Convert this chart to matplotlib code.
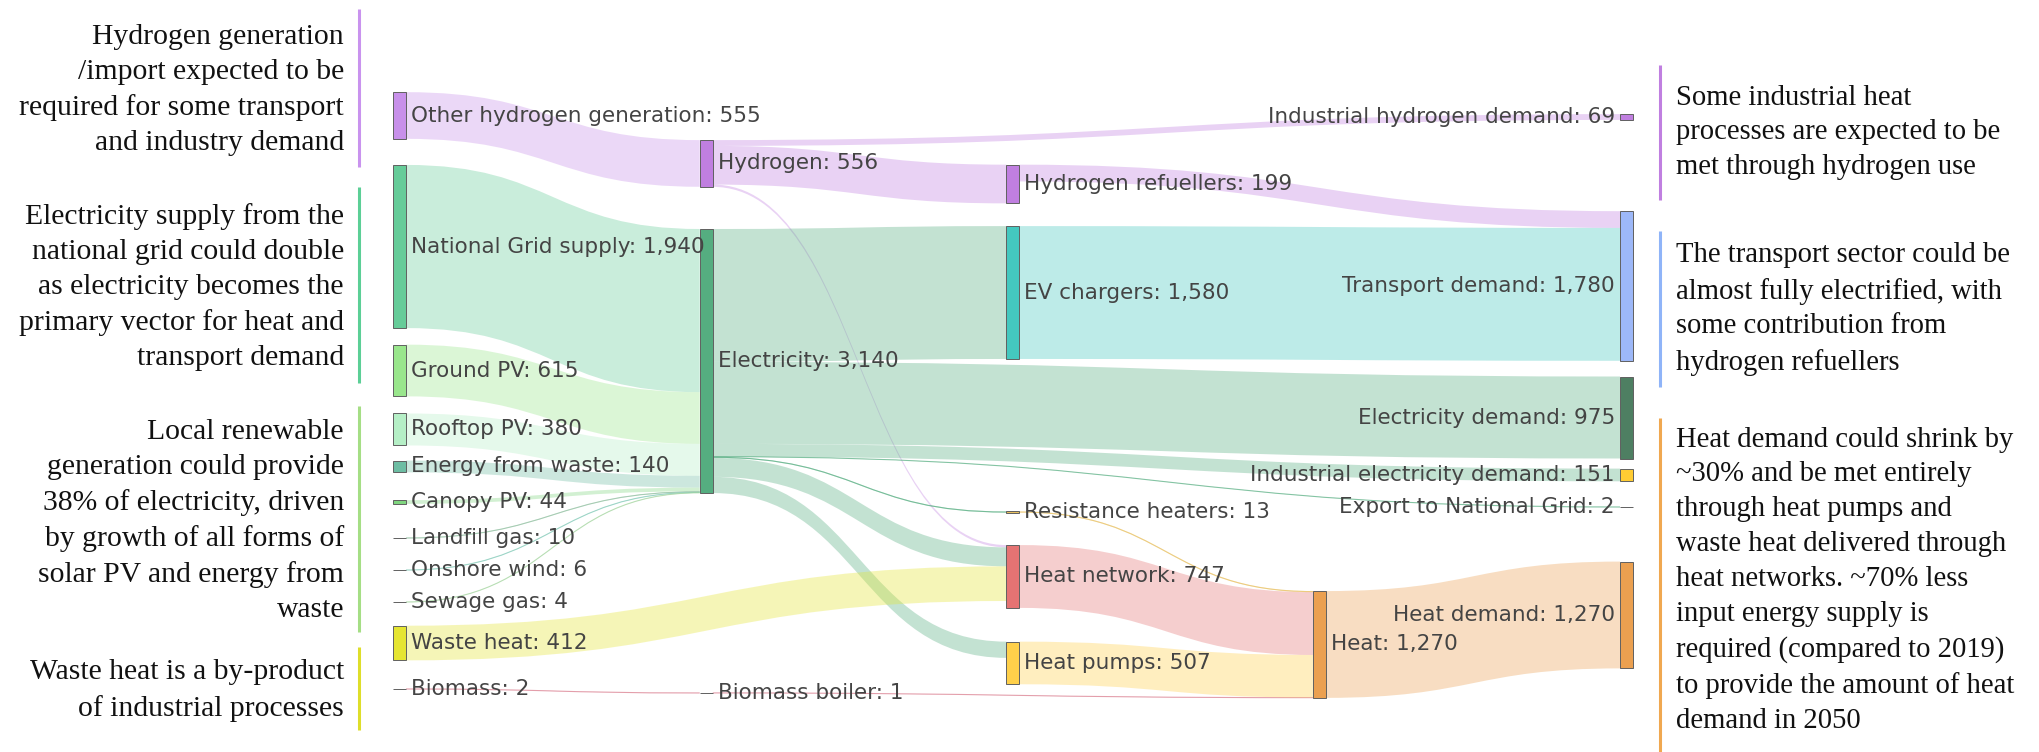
import numpy as np
import matplotlib.pyplot as plt
from matplotlib.path import Path
from matplotlib.patches import PathPatch, Rectangle

W, H = 2040, 752

# nodes
node_names = [
    "Other hydrogen generation", "National Grid supply", "Ground PV", "Rooftop PV",
    "Energy from waste", "Canopy PV", "Landfill gas", "Onshore wind", "Sewage gas",
    "Waste heat", "Biomass",
    "Hydrogen", "Electricity", "Biomass boiler",
    "Hydrogen refuellers", "EV chargers", "Resistance heaters", "Heat network", "Heat pumps",
    "Heat",
    "Industrial hydrogen demand", "Transport demand", "Electricity demand",
    "Industrial electricity demand", "Export to National Grid", "Heat demand",
]
node_cols = [0] * 11 + [1] * 3 + [2] * 5 + [3] + [4] * 6
# vertical centre of each node, as a fraction of the figure height from the top
node_ypos = [
    0.1536, 0.3278, 0.4927, 0.5711, 0.6203, 0.6676, 0.7154, 0.7580, 0.8005, 0.8551, 0.9162,
    0.2174, 0.4801, 0.9215,
    0.2447, 0.3890, 0.6809, 0.7666, 0.8816,
    0.8570,
    0.1556, 0.3803, 0.5552, 0.6316, 0.6742, 0.8178,
]
node_colors = [
    "#c890ea", "#66cc99", "#99e68c", "#b5efc6", "#6dbda3", "#7fd67f", "#8fbf9f", "#7ec8b5",
    "#9fd39a", "#e5e532", "#d9788a",
    "#c07fe0", "#55ad80", "#d9788a",
    "#c07fe0", "#44c8bf", "#e8c060", "#e57373", "#ffd04a",
    "#eba050",
    "#c07fe0", "#9db8f8", "#4e7f62", "#ffcc33", "#999999", "#eba050",
]

# flows
link_source = [
    "Other hydrogen generation", "Hydrogen", "Hydrogen", "Hydrogen",
    "National Grid supply", "Ground PV", "Rooftop PV", "Energy from waste", "Canopy PV",
    "Landfill gas", "Onshore wind", "Sewage gas",
    "Electricity", "Electricity", "Electricity", "Electricity", "Electricity", "Electricity",
    "Electricity",
    "Waste heat", "Biomass", "Biomass boiler",
    "Hydrogen refuellers", "EV chargers", "Resistance heaters", "Heat network", "Heat pumps",
    "Heat",
]
link_target = [
    "Hydrogen", "Industrial hydrogen demand", "Hydrogen refuellers", "Heat network",
    "Electricity", "Electricity", "Electricity", "Electricity", "Electricity",
    "Electricity", "Electricity", "Electricity",
    "EV chargers", "Electricity demand", "Industrial electricity demand",
    "Export to National Grid", "Resistance heaters", "Heat network", "Heat pumps",
    "Heat network", "Biomass boiler", "Heat",
    "Transport demand", "Transport demand", "Heat", "Heat", "Heat",
    "Heat demand",
]
link_value = [
    555, 69, 460, 27,
    1940, 615, 380, 140, 44, 10, 6, 4,
    1580, 975, 151, 2, 13, 226, 193,
    412, 2, 1,
    199, 1580, 13, 747, 507,
    1270,
]

left_notes = [
    "Hydrogen generation\n/import expected to be\nrequired for some transport\nand industry demand",
    "Electricity supply from the\nnational grid could double\nas electricity becomes the\n"
    "primary vector for heat and\ntransport demand",
    "Local renewable\ngeneration could provide\n38% of electricity, driven\n"
    "by growth of all forms of\nsolar PV and energy from\nwaste",
    "Waste heat is a by-product\nof industrial processes",
]
left_colors = ["#c993ee", "#5ccf96", "#a5de85", "#dede2a"]
left_spans = [(0.012, 0.222), (0.249, 0.509), (0.540, 0.840), (0.860, 0.971)]

right_notes = [
    "Some industrial heat\nprocesses are expected to be\nmet through hydrogen use",
    "The transport sector could be\nalmost fully electrified, with\nsome contribution from\n"
    "hydrogen refuellers",
    "Heat demand could shrink by\n~30% and be met entirely\nthrough heat pumps and\n"
    "waste heat delivered through\nheat networks. ~70% less\ninput energy supply is\n"
    "required (compared to 2019)\nto provide the amount of heat\ndemand in 2050",
]
right_colors = ["#c07fe0", "#8fb4f8", "#f0a850"]
right_spans = [(0.086, 0.266), (0.307, 0.515), (0.556, 1.0)]

# layout
scale = 0.0841          # pixels per unit of flow
node_w = 13
x_left, x_right = 393, 1633
link_alpha = 0.35
label_size = 15.5


def sig3(v):
    if v == 0:
        return 0
    return int(round(v, 2 - int(np.floor(np.log10(abs(v))))))


centre = {n: y * H for n, y in zip(node_names, node_ypos)}
col = dict(zip(node_names, node_cols))
color = dict(zip(node_names, node_colors))
step = (x_right - x_left - node_w) / 4
xpos = {n: x_left + c * step for n, c in col.items()}

out_links = {n: [] for n in node_names}
in_links = {n: [] for n in node_names}
for i, (s, t) in enumerate(zip(link_source, link_target)):
    out_links[s].append(i)
    in_links[t].append(i)
for n in node_names:
    out_links[n].sort(key=lambda i: centre[link_target[i]])
    in_links[n].sort(key=lambda i: centre[link_source[i]])

tot_in = {n: sum(link_value[i] for i in in_links[n]) for n in node_names}
tot_out = {n: sum(link_value[i] for i in out_links[n]) for n in node_names}
height = {n: max(tot_in[n], tot_out[n]) * scale for n in node_names}
top = {n: centre[n] - height[n] / 2 for n in node_names}

src_off, tgt_off = {}, {}
for n in node_names:
    y = top[n]
    for i in out_links[n]:
        src_off[i] = y
        y += link_value[i] * scale
    y = top[n]
    for i in in_links[n]:
        tgt_off[i] = y
        y += link_value[i] * scale

fig = plt.figure(figsize=(W / 100, H / 100), dpi=100)
ax = fig.add_axes([0, 0, 1, 1])
ax.set_xlim(0, W)
ax.set_ylim(H, 0)
ax.axis("off")

# links
for i, v in enumerate(link_value):
    s, t = link_source[i], link_target[i]
    th = v * scale
    x0 = xpos[s] + node_w
    x1 = xpos[t]
    xm = (x0 + x1) / 2
    s0, t0 = src_off[i], tgt_off[i]
    s1, t1 = s0 + th, t0 + th
    verts = [(x0, s0), (xm, s0), (xm, t0), (x1, t0), (x1, t1), (xm, t1), (xm, s1), (x0, s1), (x0, s0)]
    codes = [Path.MOVETO, Path.CURVE4, Path.CURVE4, Path.CURVE4, Path.LINETO,
             Path.CURVE4, Path.CURVE4, Path.CURVE4, Path.CLOSEPOLY]
    ax.add_patch(PathPatch(Path(verts, codes), facecolor=color[s], edgecolor="none",
                           alpha=link_alpha, zorder=1))
    if th < 2:
        sm, tm = (s0 + s1) / 2, (t0 + t1) / 2
        line = Path([(x0, sm), (xm, sm), (xm, tm), (x1, tm)],
                    [Path.MOVETO, Path.CURVE4, Path.CURVE4, Path.CURVE4])
        ax.add_patch(PathPatch(line, facecolor="none", edgecolor=color[s],
                               lw=0.8, alpha=0.7, zorder=1))

# nodes and their labels
for n in node_names:
    ax.add_patch(Rectangle((xpos[n], top[n]), node_w, max(height[n], 0.4),
                           facecolor=color[n], edgecolor="#606060", lw=0.7, zorder=3))
    val = tot_out[n] if tot_out[n] > 0 else tot_in[n]
    label = f"{n}: {sig3(val):,}"
    if col[n] == 4:
        ax.text(xpos[n] - 5, centre[n], label, ha="right", va="center",
                fontsize=label_size, color="#444444", family="DejaVu Sans", zorder=4)
    else:
        ax.text(xpos[n] + node_w + 5, centre[n], label, ha="left", va="center",
                fontsize=label_size, color="#444444", family="DejaVu Sans", zorder=4)

# side notes
for txt, c, (a, b) in zip(left_notes, left_colors, left_spans):
    ax.plot([359, 359], [a * H, b * H], color=c, lw=2.2, solid_capstyle="butt")
    ax.text(344, (a + b) / 2 * H + 2, txt, ha="right", va="center", fontsize=21.3,
            family="Liberation Serif", color="#111111", linespacing=1.44)

for txt, c, (a, b) in zip(right_notes, right_colors, right_spans):
    ax.plot([1660, 1660], [a * H, b * H], color=c, lw=2.2, solid_capstyle="butt")
    mid = (a + min(b, 0.987)) / 2 * H
    ax.text(1676, mid, txt, ha="left", va="center", fontsize=20.6,
            family="Liberation Serif", color="#111111", linespacing=1.44)

fig.savefig("out.png", dpi=100)
